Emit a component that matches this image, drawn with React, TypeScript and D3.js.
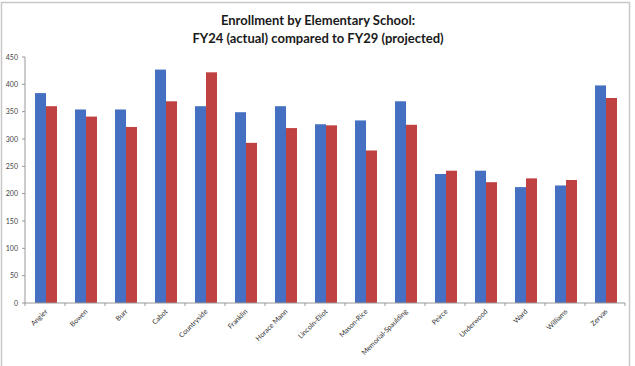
import * as d3 from 'd3'

const schools = [
  'Angier', 'Bowen', 'Burr', 'Cabot', 'Countryside', 'Franklin', 'Horace Mann',
  'Lincoln-Eliot', 'Mason-Rice', 'Memorial-Spaulding', 'Peirce', 'Underwood',
  'Ward', 'Williams', 'Zervas',
]
const fy24 = [384, 354, 354, 427, 360, 349, 360, 327, 334, 369, 236, 242, 212, 215, 398]
const fy29 = [360, 341, 322, 369, 422, 293, 320, 325, 279, 326, 242, 221, 228, 225, 375]
const yTicks = [0, 50, 100, 150, 200, 250, 300, 350, 400, 450]

const W = 635
const H = 366
const margin = { top: 57, right: 10, bottom: 63, left: 25 }
const font = 'Lato, "Open Sans", sans-serif'

export default function App() {
  const x = d3.scaleBand<string>().domain(schools).range([margin.left, W - margin.right])
  const y = d3.scaleLinear().domain([0, 450]).range([H - margin.bottom, margin.top])
  const barW = 11
  const bw = x.bandwidth()

  return (
    <svg width={W} height={H} style={{ position: 'fixed', left: 0, top: 0, background: '#fff' }}>
      <rect x={1.5} y={2.5} width={628} height={H + 10} fill="#fff" stroke="#c8c8c8" strokeWidth={1.5} />
      <text x={318} y={25} textAnchor="middle" fontFamily={font} fontWeight="bold" fontSize={13} fill="#1a1a1a">
        Enrollment by Elementary School:
      </text>
      <text x={318} y={43} textAnchor="middle" fontFamily={font} fontWeight="bold" fontSize={13} fill="#1a1a1a">
        FY24 (actual) compared to FY29 (projected)
      </text>

      {yTicks.map(t => (
        <g key={t}>
          <line x1={margin.left - 3} x2={margin.left} y1={y(t)} y2={y(t)} stroke="#999" />
          <text x={18} y={y(t) + 2.5} textAnchor="end" fontFamily={font} fontSize={7} fill="#444">{t}</text>
        </g>
      ))}

      {schools.map((s, i) => {
        const x0 = (x(s) ?? 0) + bw / 2 - barW + 1
        return (
          <g key={s}>
            <rect x={x0} y={y(fy24[i])} width={barW} height={y(0) - y(fy24[i])} fill="#4570c2" />
            <rect x={x0 + barW} y={y(fy29[i])} width={barW} height={y(0) - y(fy29[i])} fill="#bf4141" />
          </g>
        )
      })}

      <line x1={margin.left} x2={margin.left} y1={margin.top} y2={y(0)} stroke="#999" />
      <line x1={margin.left} x2={W - margin.right} y1={y(0)} y2={y(0)} stroke="#999" />
      {[...schools.map(s => x(s) ?? 0), W - margin.right].map((t, i) => (
        <line key={i} x1={t} x2={t} y1={y(0)} y2={y(0) + 3} stroke="#999" />
      ))}

      {schools.map(s => {
        const cx = (x(s) ?? 0) + bw / 2 + 3
        const cy = y(0) + 9
        return (
          <text key={s} x={cx} y={cy} transform={`rotate(-45 ${cx} ${cy})`} textAnchor="end"
            fontFamily={font} fontSize={7} fill="#333">{s}</text>
        )
      })}
    </svg>
  )
}
